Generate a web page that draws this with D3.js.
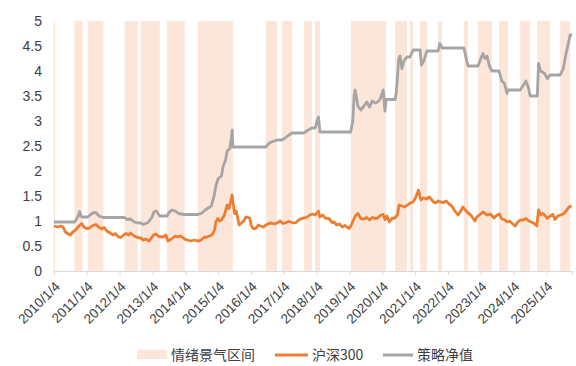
<!DOCTYPE html>
<html><head><meta charset="utf-8">
<script src="https://cdn.jsdelivr.net/npm/d3@7/dist/d3.min.js"></script>
<style>
html,body{margin:0;padding:0;background:#fff;}
svg{display:block;font-family:"Noto Sans CJK SC","Noto Sans",sans-serif;}
</style></head>
<body>
<svg id="chart" width="576" height="366"></svg>
<script>
// ---- data ----
const bandStart = ["2010-01-01","2010-08-20","2011-01-15","2012-02-28","2012-08-25","2013-06-15","2014-05-22","2016-06-17","2016-12-13","2017-08-15","2017-12-18","2019-01-18","2020-05-26","2020-11-07","2021-02-28","2021-09-16","2022-07-01","2022-12-04","2023-07-27","2024-03-18","2024-09-24","2025-06-06"];
const bandEnd   = ["2010-01-15","2010-11-17","2011-07-08","2012-07-24","2013-03-26","2013-12-28","2015-06-17","2016-10-20","2017-04-06","2017-11-14","2018-02-10","2020-02-15","2020-10-04","2020-12-13","2021-05-15","2021-10-30","2022-08-15","2023-05-08","2023-11-04","2024-07-06","2025-02-14","2025-09-24"];

const csiDates = ["2010-01-04","2010-02-15","2010-03-20","2010-04-15","2010-05-10","2010-06-10","2010-07-05","2010-08-01","2010-09-01","2010-10-10","2010-11-08","2010-12-01","2011-01-01","2011-02-01","2011-03-01","2011-04-15","2011-05-15","2011-06-20","2011-07-15","2011-08-15","2011-09-20","2011-10-25","2011-11-15","2011-12-25","2012-01-15","2012-02-25","2012-03-15","2012-04-15","2012-05-05","2012-06-15","2012-07-20","2012-08-25","2012-09-25","2012-10-20","2012-11-25","2012-12-15","2013-01-15","2013-02-10","2013-03-15","2013-05-01","2013-06-01","2013-06-25","2013-08-01","2013-09-15","2013-10-15","2013-11-15","2013-12-20","2014-01-20","2014-03-10","2014-04-15","2014-05-20","2014-06-20","2014-07-30","2014-09-01","2014-10-01","2014-11-01","2014-11-25","2014-12-10","2014-12-31","2015-01-20","2015-02-15","2015-03-15","2015-04-15","2015-05-05","2015-05-25","2015-06-08","2015-06-20","2015-07-08","2015-07-25","2015-08-26","2015-09-15","2015-10-15","2015-11-10","2015-12-20","2016-01-10","2016-01-28","2016-02-28","2016-03-25","2016-04-20","2016-05-20","2016-06-20","2016-07-20","2016-08-20","2016-09-20","2016-10-20","2016-11-25","2016-12-25","2017-01-20","2017-02-25","2017-03-20","2017-04-25","2017-05-20","2017-06-20","2017-07-20","2017-08-20","2017-09-20","2017-10-20","2017-11-20","2017-12-20","2018-01-24","2018-02-09","2018-03-10","2018-04-10","2018-05-20","2018-06-25","2018-07-15","2018-08-15","2018-09-15","2018-10-18","2018-11-15","2018-12-28","2019-01-20","2019-02-25","2019-03-10","2019-04-08","2019-05-10","2019-06-15","2019-07-15","2019-08-15","2019-09-15","2019-10-15","2019-11-15","2019-12-20","2020-01-15","2020-02-03","2020-02-25","2020-03-23","2020-04-20","2020-05-20","2020-06-20","2020-07-10","2020-08-10","2020-09-10","2020-10-10","2020-11-10","2020-12-10","2021-01-05","2021-02-10","2021-03-09","2021-04-05","2021-05-10","2021-06-10","2021-07-28","2021-08-20","2021-09-15","2021-10-15","2021-11-15","2021-12-15","2022-01-15","2022-02-15","2022-03-15","2022-04-26","2022-05-20","2022-06-20","2022-07-15","2022-08-15","2022-09-15","2022-10-31","2022-11-20","2022-12-20","2023-01-28","2023-02-20","2023-03-20","2023-04-20","2023-05-31","2023-06-20","2023-07-31","2023-08-25","2023-09-20","2023-10-23","2023-11-20","2023-12-20","2024-01-22","2024-02-20","2024-03-20","2024-04-20","2024-05-20","2024-06-20","2024-07-20","2024-08-20","2024-09-18","2024-10-08","2024-10-30","2024-11-20","2024-12-15","2025-01-13","2025-02-15","2025-03-15","2025-04-08","2025-05-10","2025-06-10","2025-07-10","2025-08-10","2025-09-10","2025-10-10"];
const csiValues = [0.90,0.88,0.90,0.88,0.78,0.74,0.72,0.78,0.82,0.90,0.95,0.88,0.85,0.86,0.90,0.93,0.88,0.84,0.87,0.80,0.76,0.72,0.75,0.68,0.67,0.73,0.75,0.72,0.76,0.70,0.67,0.66,0.62,0.64,0.60,0.64,0.72,0.74,0.69,0.68,0.72,0.60,0.64,0.70,0.68,0.70,0.65,0.62,0.60,0.62,0.60,0.61,0.67,0.68,0.70,0.73,0.82,0.98,1.05,1.00,1.03,1.12,1.32,1.25,1.40,1.52,1.35,1.15,1.20,0.92,0.95,1.00,1.08,1.06,0.90,0.85,0.85,0.92,0.90,0.88,0.92,0.95,0.96,0.94,0.96,1.00,0.95,0.96,0.99,0.98,0.96,0.97,1.02,1.05,1.06,1.08,1.12,1.14,1.12,1.20,1.08,1.12,1.06,1.05,0.97,0.98,0.92,0.94,0.88,0.91,0.85,0.90,1.05,1.10,1.15,1.05,1.04,1.07,1.02,1.07,1.05,1.06,1.12,1.13,1.03,1.10,0.98,1.05,1.06,1.12,1.32,1.30,1.28,1.32,1.36,1.38,1.45,1.62,1.42,1.46,1.44,1.48,1.38,1.36,1.40,1.38,1.37,1.40,1.34,1.30,1.22,1.12,1.18,1.28,1.22,1.16,1.12,1.00,1.08,1.12,1.18,1.15,1.12,1.14,1.06,1.10,1.14,1.04,1.03,0.98,1.00,0.95,0.90,0.98,1.02,1.02,1.05,1.00,0.98,0.95,0.90,1.22,1.12,1.15,1.12,1.05,1.10,1.13,1.03,1.10,1.12,1.14,1.20,1.28,1.30];

const navDates = ["2010-01-04","2010-08-20","2010-09-05","2010-10-01","2010-10-16","2010-11-01","2010-11-17","2011-01-15","2011-02-10","2011-03-20","2011-04-20","2011-05-20","2011-07-08","2012-02-28","2012-03-25","2012-05-05","2012-06-15","2012-07-24","2012-08-25","2012-09-25","2012-11-15","2012-12-31","2013-01-20","2013-02-15","2013-03-26","2013-06-15","2013-07-10","2013-08-10","2013-09-15","2013-10-20","2013-12-28","2014-05-22","2014-07-01","2014-08-15","2014-09-15","2014-10-20","2014-11-20","2014-12-10","2015-01-05","2015-02-10","2015-03-01","2015-03-25","2015-04-15","2015-05-15","2015-05-30","2015-06-10","2015-06-17","2016-06-17","2016-07-20","2016-08-20","2016-09-20","2016-10-20","2016-12-13","2017-01-20","2017-03-01","2017-04-06","2017-08-15","2017-10-01","2017-11-14","2017-12-18","2018-01-24","2018-02-10","2019-01-18","2019-02-10","2019-02-25","2019-03-08","2019-04-08","2019-05-10","2019-06-15","2019-07-15","2019-08-15","2019-09-15","2019-10-15","2019-11-15","2019-12-15","2020-01-15","2020-02-03","2020-02-15","2020-05-26","2020-06-10","2020-07-06","2020-07-20","2020-08-10","2020-09-01","2020-10-04","2020-11-07","2020-12-13","2021-02-28","2021-03-15","2021-04-10","2021-05-15","2021-09-16","2021-10-05","2021-10-30","2022-07-01","2022-07-20","2022-08-15","2022-12-04","2022-12-25","2023-01-28","2023-02-20","2023-03-15","2023-04-10","2023-05-08","2023-07-27","2023-08-25","2023-09-25","2023-10-23","2023-11-04","2024-03-18","2024-05-20","2024-06-20","2024-07-06","2024-09-24","2024-10-08","2024-10-30","2024-12-15","2025-01-13","2025-02-14","2025-06-06","2025-07-10","2025-08-10","2025-09-10","2025-09-24","2025-10-15"];
const navValues = [0.98,0.98,1.02,1.10,1.19,1.10,1.08,1.08,1.12,1.17,1.16,1.10,1.07,1.07,1.03,1.04,0.98,0.96,0.96,0.93,0.97,1.08,1.18,1.20,1.10,1.10,1.18,1.22,1.20,1.15,1.13,1.13,1.15,1.22,1.26,1.30,1.50,1.70,1.85,1.90,2.10,2.20,2.40,2.45,2.65,2.82,2.48,2.48,2.55,2.58,2.60,2.62,2.62,2.66,2.72,2.76,2.76,2.82,2.86,2.86,3.08,2.78,2.78,3.00,3.50,3.62,3.30,3.22,3.30,3.38,3.28,3.40,3.36,3.38,3.45,3.62,3.20,3.43,3.43,3.60,4.25,4.30,4.05,4.20,4.28,4.28,4.42,4.42,4.12,4.20,4.40,4.40,4.55,4.46,4.46,4.30,4.10,4.10,4.20,4.35,4.25,4.30,4.10,4.00,4.00,3.80,3.75,3.55,3.62,3.62,3.80,3.65,3.50,3.50,4.15,4.00,3.95,3.85,3.92,3.92,4.05,4.35,4.60,4.72,4.72];

const yTicks = [0,0.5,1,1.5,2,2.5,3,3.5,4,4.5,5];
const xTickLabels = ["2010/1/4","2011/1/4","2012/1/4","2013/1/4","2014/1/4","2015/1/4","2016/1/4","2017/1/4","2018/1/4","2019/1/4","2020/1/4","2021/1/4","2022/1/4","2023/1/4","2024/1/4","2025/1/4"];
const legendLabels = ["情绪景气区间","沪深300","策略净值"];

// ---- chart ----
const parse = d3.timeParse("%Y-%m-%d");
const parseTick = d3.timeParse("%Y/%m/%d");
const svg = d3.select("#chart");
const x = d3.scaleTime().domain([parse("2010-01-04"), parse("2025-10-15")]).range([54, 572]);
const y = d3.scaleLinear().domain([0, 5]).range([271, 21]);

const bandColor = "#FBE6D9", orange = "#ED7D31", gray = "#A5A5A5";

svg.append("g").selectAll("rect").data(bandStart.map((s,i)=>[parse(s), parse(bandEnd[i])]))
  .join("rect")
  .attr("x", d => Math.max(x(d[0]), 53))
  .attr("width", d => x(d[1]) - Math.max(x(d[0]), 53))
  .attr("y", y(5)).attr("height", y(0) - y(5))
  .attr("fill", bandColor);

// x axis
const tickDates = xTickLabels.map(t => parseTick(t));
const xAxis = d3.axisBottom(x).tickValues(tickDates).tickSize(4).tickFormat((d,i)=>xTickLabels[i]);
const gx = svg.append("g").attr("transform", `translate(0,${y(0)})`).call(xAxis);
gx.select(".domain").attr("stroke", "#D9D9D9");
gx.selectAll(".tick line").attr("stroke", "#D9D9D9");
gx.selectAll(".tick text")
  .attr("fill", "#404040").attr("font-size", 13.5)
  .attr("text-anchor", "end")
  .attr("transform", "translate(3,13) rotate(-45)")
  .attr("x", 0).attr("y", 0).attr("dy", "0.35em");

// y axis
const yAxis = d3.axisLeft(y).tickValues(yTicks).tickSize(0).tickPadding(0).tickFormat(d3.format("~g"));
const gy = svg.append("g").attr("transform", "translate(42,0)").call(yAxis);
gy.select(".domain").remove();
gy.selectAll(".tick text").attr("fill", "#404040").attr("font-size", 14);

// lines
const line = d3.line().x(d => x(d[0])).y(d => y(d[1]));
const csi = csiDates.map((d,i)=>[parse(d), csiValues[i]]);
const nav = navDates.map((d,i)=>[parse(d), navValues[i]]);
svg.append("path").datum(csi).attr("d", line).attr("fill","none")
  .attr("stroke", orange).attr("stroke-width", 2.8).attr("stroke-linejoin","round");
svg.append("path").datum(nav).attr("d", line).attr("fill","none")
  .attr("stroke", gray).attr("stroke-width", 2.8).attr("stroke-linejoin","round");

// legend
const lg = svg.append("g").attr("font-size", 14).attr("fill", "#404040");
lg.append("rect").attr("x", 137).attr("y", 350).attr("width", 30).attr("height", 9).attr("fill", bandColor);
lg.append("text").attr("x", 171).attr("y", 355).attr("dy", "0.35em").text(legendLabels[0]);
lg.append("line").attr("x1", 275).attr("x2", 308).attr("y1", 355).attr("y2", 355).attr("stroke", orange).attr("stroke-width", 3);
lg.append("text").attr("x", 312).attr("y", 355).attr("dy", "0.35em").text(legendLabels[1]);
lg.append("line").attr("x1", 383).attr("x2", 413).attr("y1", 355).attr("y2", 355).attr("stroke", gray).attr("stroke-width", 3);
lg.append("text").attr("x", 417).attr("y", 355).attr("dy", "0.35em").text(legendLabels[2]);
</script>
</body></html>
